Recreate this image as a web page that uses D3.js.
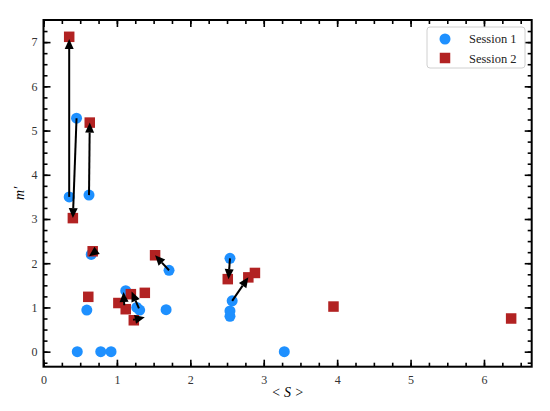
<!DOCTYPE html>
<html><head><meta charset="utf-8">
<script src="https://cdn.jsdelivr.net/npm/d3@7/dist/d3.min.js"></script>
<style>
body{margin:0;background:#fff;}
text{font-family:"Liberation Serif","DejaVu Serif",serif;}
</style></head>
<body><svg id="c" width="550" height="411"></svg>
<script>
// Session 1 (blue circles)
const s1x = [0.35, 0.45, 0.62, 0.46, 0.59, 0.65, 0.78, 0.92, 1.12, 1.27, 1.31, 1.71, 1.67, 2.54, 2.57, 2.54, 2.54, 3.28];
const s1y = [3.50, 5.28, 3.54, 0.00, 0.94, 2.20, 0.00, 0.00, 1.38, 1.00, 0.94, 1.84, 0.95, 2.11, 1.15, 0.92, 0.80, 0.00];
// Session 2 (red squares)
const s2x = [0.35, 0.40, 0.63, 0.67, 0.61, 1.02, 1.12, 1.19, 1.23, 1.38, 1.52, 2.51, 2.79, 2.88, 3.95, 6.37];
const s2y = [7.12, 3.02, 5.18, 2.27, 1.24, 1.10, 0.96, 1.30, 0.71, 1.33, 2.18, 1.64, 1.68, 1.78, 1.02, 0.75];
// arrows: start (session 1) -> end (session 2)
const arrowX1 = [0.35, 0.45, 0.62, 0.72, 1.10, 1.30, 1.22, 1.71, 2.54, 2.57];
const arrowY1 = [3.50, 5.28, 3.54, 2.28, 1.05, 0.98, 0.72, 1.84, 2.11, 1.15];
const arrowX2 = [0.35, 0.40, 0.63, 0.62, 1.09, 1.20, 1.38, 1.52, 2.52, 2.79];
const arrowY2 = [7.07, 3.02, 5.18, 2.16, 1.35, 1.36, 0.78, 2.18, 1.64, 1.68];
const xTicks = [0, 1, 2, 3, 4, 5, 6];
const yTicks = [0, 1, 2, 3, 4, 5, 6, 7];
const seriesNames = ["Session 1", "Session 2"];
const colors = ["#1E90FF", "#B22222"];

const svg = d3.select("#c");
const L = 43.5, R = 531.7, T = 20, B = 366.7;
const x = d3.scaleLinear().domain([0, 6.65]).range([L, R]);
const y = d3.scaleLinear().domain([-0.34, 7.5]).range([B, T]);

const xMinor = d3.range(0, 6.65, 0.25);
const yMinor = d3.range(-0.25, 7.5, 0.25);

function styleAxis(g){
  g.select(".domain").remove();
  g.selectAll(".tick line").attr("stroke","#000").attr("stroke-width",1.6);
  g.selectAll(".tick text").attr("font-size","12px").attr("fill","#333");
}
// bottom
svg.append("g").attr("transform",`translate(0,${B})`)
  .call(d3.axisBottom(x).tickValues(xMinor).tickSize(-4).tickFormat("")).call(styleAxis);
svg.append("g").attr("transform",`translate(0,${B})`)
  .call(d3.axisBottom(x).tickValues(xTicks).tickSize(-7).tickPadding(9).tickFormat(d3.format("d"))).call(styleAxis);
// top
svg.append("g").attr("transform",`translate(0,${T})`)
  .call(d3.axisTop(x).tickValues(xMinor).tickSize(-4).tickFormat("")).call(styleAxis);
svg.append("g").attr("transform",`translate(0,${T})`)
  .call(d3.axisTop(x).tickValues(xTicks).tickSize(-7).tickFormat("")).call(styleAxis);
// left
svg.append("g").attr("transform",`translate(${L},0)`)
  .call(d3.axisLeft(y).tickValues(yMinor).tickSize(-4).tickFormat("")).call(styleAxis);
svg.append("g").attr("transform",`translate(${L},0)`)
  .call(d3.axisLeft(y).tickValues(yTicks).tickSize(-7).tickPadding(6).tickFormat(d3.format("d"))).call(styleAxis);
// right
svg.append("g").attr("transform",`translate(${R},0)`)
  .call(d3.axisRight(y).tickValues(yMinor).tickSize(-4).tickFormat("")).call(styleAxis);
svg.append("g").attr("transform",`translate(${R},0)`)
  .call(d3.axisRight(y).tickValues(yTicks).tickSize(-7).tickFormat("")).call(styleAxis);

// frame
svg.append("rect").attr("x",L).attr("y",T).attr("width",R-L).attr("height",B-T)
  .attr("fill","none").attr("stroke","#000").attr("stroke-width",2);

// markers
const plot = svg.append("g");
plot.selectAll("circle.s1").data(s1x.map((v,i)=>[v,s1y[i]])).enter().append("circle")
  .attr("cx",d=>x(d[0])).attr("cy",d=>y(d[1])).attr("r",5.5).attr("fill",colors[0]);
const sq = 10.5;
plot.selectAll("rect.s2").data(s2x.map((v,i)=>[v,s2y[i]])).enter().append("rect")
  .attr("x",d=>x(d[0])-sq/2).attr("y",d=>y(d[1])-sq/2).attr("width",sq).attr("height",sq).attr("fill",colors[1]);

// arrows
const arrows = arrowX1.map((v,i)=>({x1:x(v),y1:y(arrowY1[i]),x2:x(arrowX2[i]),y2:y(arrowY2[i])}));
const headL = 10, headW = 4.5;
arrows.forEach(a=>{
  const dx=a.x2-a.x1, dy=a.y2-a.y1, len=Math.hypot(dx,dy);
  const ux=dx/len, uy=dy/len;
  const bx=a.x2-ux*headL, by=a.y2-uy*headL;
  if(len>headL){
    plot.append("line").attr("x1",a.x1).attr("y1",a.y1).attr("x2",bx).attr("y2",by)
      .attr("stroke","#000").attr("stroke-width",2);
  }
  plot.append("path").attr("d",`M${a.x2},${a.y2}L${bx-uy*headW},${by+ux*headW}L${bx+uy*headW},${by-ux*headW}Z`)
    .attr("fill","#000");
});

// axis labels
svg.append("text").attr("x",(L+R)/2).attr("y",397).attr("text-anchor","middle")
  .attr("font-size","14px").attr("font-style","italic").text("< S >");
svg.append("text").attr("transform",`translate(24,${(T+B)/2}) rotate(-90)`).attr("text-anchor","middle")
  .attr("font-size","14px").attr("font-style","italic").text("m′");

// legend
const lg = svg.append("g");
lg.append("rect").attr("x",427).attr("y",27).attr("width",98).attr("height",41).attr("rx",3)
  .attr("fill","#fff").attr("fill-opacity",0.8).attr("stroke","#d0d0d0").attr("stroke-width",1);
lg.append("circle").attr("cx",445).attr("cy",39).attr("r",5.5).attr("fill",colors[0]);
lg.append("rect").attr("x",445-sq/2).attr("y",58-sq/2).attr("width",sq).attr("height",sq).attr("fill",colors[1]);
seriesNames.forEach((n,i)=>{
  lg.append("text").attr("x",469).attr("y",43+i*19.5).attr("font-size","12.5px").attr("fill","#222").text(n);
});
</script></body></html>
